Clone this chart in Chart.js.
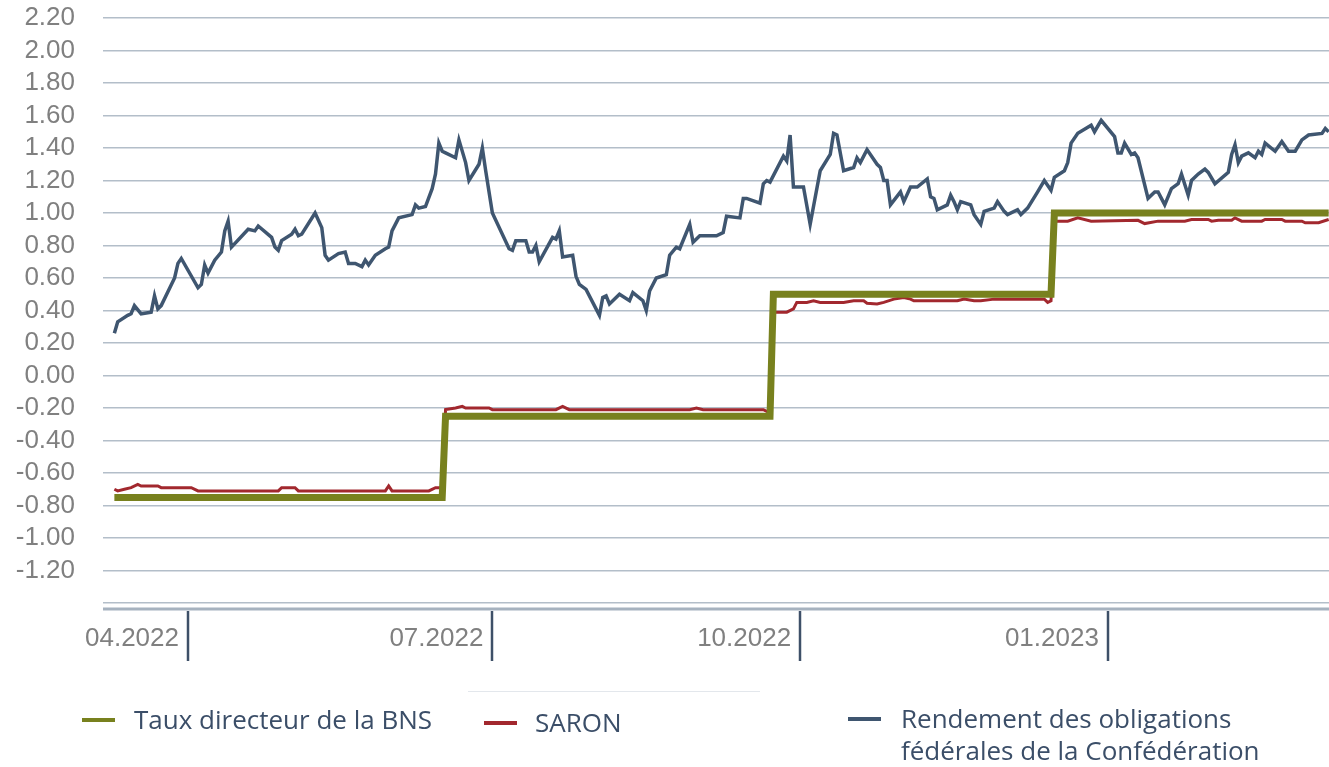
<!DOCTYPE html>
<html>
<head>
<meta charset="utf-8">
<script src="https://cdn.jsdelivr.net/npm/chart.js@4.4.1/dist/chart.umd.min.js"></script>
<style>
  html, body { margin: 0; padding: 0; background: #fff; }
  #wrap { position: relative; width: 1329px; height: 767px; }
</style>
</head>
<body>
<div id="wrap"><canvas id="rateChart"></canvas></div>
<script>
// x values are days counted from 01.01.2022
const tickDays = [90, 181, 273, 365];
const tickLabels = ['04.2022', '07.2022', '10.2022', '01.2023'];

const policyDays = [68, 166, 167, 264, 265, 348, 349, 431];
const policyRate = [-0.75, -0.75, -0.25, -0.25, 0.50, 0.50, 1.00, 1.00];

const saronDays = [68, 69, 71, 73, 75, 76, 81, 82, 91, 93, 117, 118, 122, 123, 149, 150, 151, 162, 164, 166,
  167, 170, 172, 173, 180, 181, 200, 202, 204, 240, 242, 244, 262, 263, 264,
  265, 269, 271, 272, 275, 277, 279, 286, 289, 292, 293, 296, 298, 301, 304, 306, 307, 320, 322, 325, 327, 331, 346, 347, 348,
  349, 353, 356, 360, 374, 376, 380, 388, 390, 395, 396, 398, 402, 403, 405, 411, 412, 417, 418, 423, 424, 428, 431];
const saronRate = [-0.70, -0.71, -0.70, -0.69, -0.67, -0.68, -0.68, -0.69, -0.69, -0.71, -0.71, -0.69, -0.69, -0.71, -0.71, -0.68, -0.71, -0.71, -0.69, -0.69,
  -0.21, -0.20, -0.19, -0.20, -0.20, -0.21, -0.21, -0.19, -0.21, -0.21, -0.20, -0.21, -0.21, -0.22, -0.21,
  0.39, 0.39, 0.41, 0.45, 0.45, 0.46, 0.45, 0.45, 0.46, 0.46, 0.445, 0.44, 0.45, 0.47, 0.48, 0.47, 0.46, 0.46, 0.47, 0.46, 0.46, 0.47, 0.47, 0.45, 0.46,
  0.95, 0.95, 0.97, 0.95, 0.955, 0.935, 0.95, 0.95, 0.96, 0.96, 0.95, 0.955, 0.955, 0.97, 0.95, 0.95, 0.96, 0.96, 0.95, 0.95, 0.94, 0.94, 0.96];

const bondDays = [68, 69, 72, 73, 74, 76, 79, 80, 81, 82, 86, 87, 88, 93, 94, 95, 96, 98, 100, 101, 102, 103,
  108, 110, 111, 115, 116, 117, 118, 121, 122, 123, 124, 128, 130, 131, 132, 135, 137, 138, 140, 142, 143, 144,
  146, 149, 150, 151, 153, 157, 158, 159, 161, 163, 164, 165, 166, 167, 170, 171, 173, 174, 177, 178, 179, 181,
  186, 187, 188, 191, 192, 193, 194, 195, 199, 200, 201, 202, 205, 206, 207, 209, 213, 214, 215, 216, 219, 222,
  223, 226, 227, 228, 230, 233, 234, 236, 237, 240, 241, 243, 248, 250, 251, 255, 256, 257, 261, 262, 263, 264,
  268, 269, 270, 271, 274, 276, 279, 282, 283, 284, 286, 289, 290, 291, 293, 296, 297, 298, 299, 300, 303, 304,
  306, 308, 311, 312, 313, 314, 317, 318, 319, 320, 321, 324, 325, 327, 328, 331, 332, 334, 335, 338, 339, 341,
  344, 346, 348, 349, 352, 353, 354, 356, 360, 361, 363, 367, 368, 369, 370, 372, 373, 374, 377, 379, 380, 381,
  382, 384, 386, 387, 389, 390, 392, 394, 395, 397, 401, 402, 403, 404, 405, 407, 409, 410, 411, 412, 415, 417,
  419, 421, 423, 425, 429, 430, 431];
const bondYield = [0.26, 0.33, 0.37, 0.38, 0.43, 0.38, 0.39, 0.49, 0.41, 0.43, 0.60, 0.69, 0.72, 0.54, 0.56, 0.68, 0.63, 0.71, 0.76, 0.89, 0.95, 0.79,
  0.90, 0.89, 0.92, 0.85, 0.79, 0.77, 0.83, 0.87, 0.90, 0.86, 0.87, 1.00, 0.91, 0.74, 0.71, 0.75, 0.76, 0.69, 0.69, 0.67, 0.71, 0.68,
  0.74, 0.78, 0.79, 0.89, 0.97, 0.99, 1.05, 1.03, 1.04, 1.15, 1.24, 1.43, 1.38, 1.37, 1.34, 1.45, 1.31, 1.20, 1.30, 1.40, 1.26, 1.00,
  0.78, 0.77, 0.83, 0.83, 0.76, 0.76, 0.80, 0.70, 0.85, 0.84, 0.89, 0.73, 0.74, 0.61, 0.56, 0.53, 0.37, 0.48, 0.49, 0.44, 0.50, 0.46,
  0.51, 0.46, 0.40, 0.52, 0.60, 0.62, 0.74, 0.79, 0.78, 0.93, 0.82, 0.86, 0.86, 0.88, 0.98, 0.97, 1.09, 1.09, 1.06, 1.18, 1.20, 1.19,
  1.35, 1.32, 1.48, 1.16, 1.16, 0.93, 1.26, 1.36, 1.49, 1.48, 1.26, 1.28, 1.34, 1.31, 1.39, 1.30, 1.28, 1.20, 1.20, 1.05, 1.13, 1.07,
  1.16, 1.16, 1.21, 1.10, 1.09, 1.02, 1.05, 1.11, 1.07, 1.02, 1.07, 1.05, 0.99, 0.93, 1.01, 1.03, 1.07, 1.01, 0.99, 1.02, 0.99, 1.03,
  1.13, 1.20, 1.14, 1.22, 1.26, 1.31, 1.43, 1.49, 1.54, 1.50, 1.57, 1.47, 1.37, 1.37, 1.43, 1.36, 1.37, 1.34, 1.09, 1.13, 1.13, 1.09,
  1.05, 1.15, 1.18, 1.24, 1.11, 1.20, 1.24, 1.27, 1.25, 1.18, 1.25, 1.36, 1.42, 1.31, 1.35, 1.37, 1.34, 1.38, 1.36, 1.43, 1.38, 1.44,
  1.38, 1.38, 1.45, 1.48, 1.49, 1.52, 1.50];

const legendLines = [
  ['Taux directeur de la BNS'],
  ['SARON'],
  ['Rendement des obligations', 'fédérales de la Confédération']
];

const toPoints = (xs, ys) => xs.map((x, i) => ({ x: x, y: ys[i] }));

// axis line, quarter tick marks and the legend under the plot
const decorPlugin = {
  id: 'decor',
  afterDraw(chart) {
    const ctx = chart.ctx;
    const area = chart.chartArea;
    const xScale = chart.scales.x;
    ctx.save();

    ctx.strokeStyle = '#a6b2bf';
    ctx.lineWidth = 3;
    ctx.beginPath();
    ctx.moveTo(area.left, area.bottom + 6);
    ctx.lineTo(area.right, area.bottom + 6);
    ctx.stroke();

    ctx.strokeStyle = '#3e5068';
    ctx.lineWidth = 2.5;
    tickDays.forEach(d => {
      const x = Math.round(xScale.getPixelForValue(d));
      ctx.beginPath();
      ctx.moveTo(x, area.bottom + 8);
      ctx.lineTo(x, area.bottom + 58);
      ctx.stroke();
    });

    ctx.strokeStyle = '#e3e7ec';
    ctx.lineWidth = 1;
    ctx.beginPath();
    ctx.moveTo(468, 691.5);
    ctx.lineTo(760, 691.5);
    ctx.stroke();

    const spots = [
      { lineX: 82, textX: 134, y: 722, fit: [301] },
      { lineX: 484, textX: 535, y: 725, fit: [90] },
      { lineX: 848, textX: 901, y: 721, fit: [338, 362] }
    ];
    ctx.font = "26px 'Open Sans'";
    ctx.textBaseline = 'middle';
    ctx.fillStyle = '#3b4e68';
    chart.data.datasets.forEach((ds, i) => {
      const s = spots[i];
      ctx.strokeStyle = ds.borderColor;
      ctx.lineWidth = 4;
      ctx.beginPath();
      ctx.moveTo(s.lineX, s.y - 2);
      ctx.lineTo(s.lineX + 33, s.y - 2);
      ctx.stroke();
      legendLines[i].forEach((line, j) => {
        const w = Math.min(ctx.measureText(line).width, s.fit[j]);
        ctx.fillText(line, s.textX, s.y + j * 32, w);
      });
    });
    ctx.restore();
  }
};

new Chart(document.getElementById('rateChart'), {
  type: 'line',
  data: {
    datasets: [
      {
        label: 'Taux directeur de la BNS',
        data: toPoints(policyDays, policyRate),
        borderColor: '#78811e',
        borderWidth: 7,
        borderJoinStyle: 'miter',
        pointRadius: 0,
        tension: 0
      },
      {
        label: 'SARON',
        data: toPoints(saronDays, saronRate),
        borderColor: '#a2282e',
        borderWidth: 3,
        pointRadius: 0,
        tension: 0
      },
      {
        label: 'Rendement des obligations fédérales de la Confédération',
        data: toPoints(bondDays, bondYield),
        borderColor: '#3f5670',
        borderWidth: 3.5,
        pointRadius: 0,
        tension: 0
      }
    ]
  },
  options: {
    responsive: true,
    maintainAspectRatio: false,
    animation: false,
    layout: { padding: { top: 18, bottom: 100, left: 0, right: 0 } },
    plugins: {
      legend: { display: false },
      tooltip: { enabled: false }
    },
    scales: {
      x: {
        type: 'linear',
        min: 64.6,
        max: 431.1,
        afterBuildTicks: s => { s.ticks = tickDays.map(v => ({ value: v })); },
        afterFit: s => { s.height = 64; },
        grid: { display: false, drawTicks: false },
        border: { display: false },
        ticks: {
          align: 'end',
          labelOffset: -9,
          padding: 20,
          maxRotation: 0,
          autoSkip: false,
          color: '#808080',
          font: { family: "'Liberation Sans', Arial", size: 26 },
          callback: v => tickLabels[tickDays.indexOf(v)]
        }
      },
      y: {
        min: -1.4,
        max: 2.2,
        afterFit: s => { s.width = 103; s.paddingTop = 0; s.paddingBottom = 0; },
        grid: { color: '#b3bec9', lineWidth: 1.5, drawTicks: false },
        border: { display: false },
        ticks: {
          stepSize: 0.2,
          autoSkip: false,
          padding: 28,
          color: '#808080',
          font: { family: "'Liberation Sans', Arial", size: 26 },
          callback: v => {
            if (v < -1.3) return '';
            return Math.abs(v) < 1e-9 ? '0.00' : v.toFixed(2);
          }
        }
      }
    }
  },
  plugins: [decorPlugin]
});
</script>
</body>
</html>
